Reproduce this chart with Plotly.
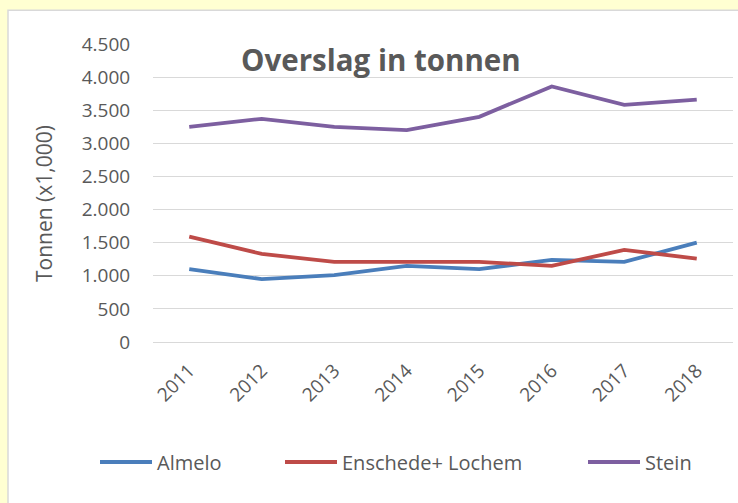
import plotly.graph_objects as go

years = ["2011", "2012", "2013", "2014", "2015", "2016", "2017", "2018"]
almelo = [1100, 950, 1010, 1150, 1100, 1240, 1210, 1500]
enschede_lochem = [1590, 1330, 1210, 1210, 1210, 1150, 1390, 1260]
stein = [3250, 3370, 3250, 3200, 3400, 3860, 3580, 3660]

series_names = ["Almelo", "Enschede+ Lochem", "Stein"]
series_values = [almelo, enschede_lochem, stein]
colors = ["#4A7EBB", "#BE4B48", "#7D5FA0"]
legend_ids = ["legend", "legend2", "legend3"]

W, H = 738, 503
PL, PR, PT, PB = 153, 733, 44.3, 341.7
FONT = "Open Sans"
GREY = "#595959"


def px(x):
    return (x - PL) / (PR - PL)


def py(y):
    return (PB - y) / (PB - PT)


fig = go.Figure()
for name, vals, col, lg in zip(series_names, series_values, colors, legend_ids):
    fig.add_trace(go.Scatter(
        x=years, y=vals, mode="lines", name=name,
        line=dict(color=col, width=3.8),
        legend=lg,
    ))

legend_common = dict(
    orientation="h", xref="container", yref="container",
    xanchor="left", yanchor="middle",
    bgcolor="rgba(0,0,0,0)", borderwidth=0,
    font=dict(family=FONT, size=20, color=GREY),
    itemwidth=52, tracegroupgap=0,
)

fig.update_layout(
    width=W, height=H,
    paper_bgcolor="#FFFFD2",
    plot_bgcolor="white",
    margin=dict(l=PL, r=W - PR, t=PT, b=H - PB, pad=0),
    separators=",.",
    showlegend=True,
    legend=dict(**legend_common, x=95 / W, y=1 - 462 / H),
    legend2=dict(**legend_common, x=280 / W, y=1 - 462 / H),
    legend3=dict(**legend_common, x=583 / W, y=1 - 462 / H),
    xaxis=dict(
        type="category", range=[-0.5, 7.5],
        showgrid=False, showline=False, zeroline=False,
        tickangle=-45,
        ticks="outside", ticklen=9, tickcolor="rgba(0,0,0,0)",
        tickfont=dict(family=FONT, size=19, color=GREY),
    ),
    yaxis=dict(
        range=[0, 4500], dtick=500, tickformat=",d",
        showgrid=True, gridcolor="#D9D9D9", gridwidth=1.3,
        zeroline=True, zerolinecolor="#D9D9D9", zerolinewidth=1.3,
        showline=False,
        ticks="outside", ticklen=18, tickcolor="rgba(0,0,0,0)",
        tickfont=dict(family=FONT, size=19, color=GREY),
    ),
    shapes=[dict(
        type="rect", xref="paper", yref="paper", layer="below",
        x0=px(8), x1=px(760), y0=py(520), y1=py(10.5),
        fillcolor="white", line=dict(color="#D9D9D9", width=1.5),
    )],
    annotations=[
        dict(text="<b>Overslag in tonnen</b>", xref="paper", yref="paper",
             x=px(381), y=py(60), xanchor="center", yanchor="middle",
             showarrow=False, font=dict(family=FONT, size=29.5, color=GREY)),
        dict(text="Tonnen (x1,000)", xref="paper", yref="paper",
             x=px(44), y=py(204), xanchor="center", yanchor="middle",
             textangle=-90, showarrow=False,
             font=dict(family=FONT, size=21, color=GREY)),
    ],
)

fig.write_html("out.html", config={"displayModeBar": False},
               post_script="document.body.style.margin='0';")
